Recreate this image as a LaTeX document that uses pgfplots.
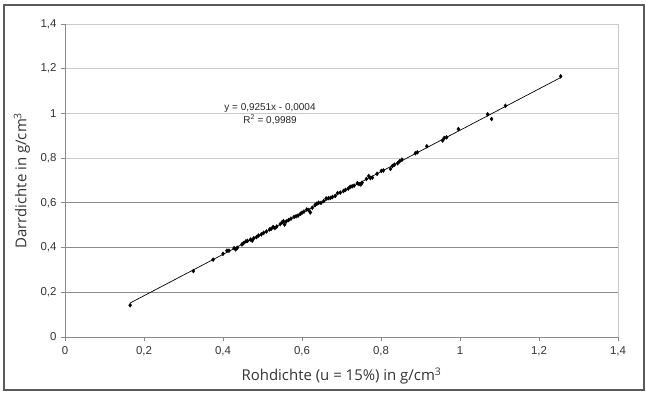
\documentclass[border=0pt]{standalone}
\usepackage{fontspec}
\setmainfont{Liberation Sans}
\newfontfamily\labelfont{Open Sans}
\usepackage{pgfplots}
\pgfplotsset{compat=1.18}

\definecolor{framegray}{HTML}{5A5A5A}
\definecolor{axisgray}{HTML}{8A8A8A}
\definecolor{darkgrid}{HTML}{8C8C8C}
\definecolor{lightgrid}{HTML}{CACACA}

\begin{document}
\begin{tikzpicture}
\useasboundingbox (0,0) rectangle (646bp,394bp);
\draw[framegray, line width=1.4bp] (4bp,4bp) rectangle (644bp,389bp);
\begin{axis}[
  at={(65bp,57bp)}, anchor=south west,
  scale only axis, width=553bp, height=313bp,
  xmin=0, xmax=1.4, ymin=0, ymax=1.4,
  xtick={0,0.2,...,1.4}, ytick={0,0.8,1,1.2,1.4},
  extra y ticks={0.2,0.4,0.6},
  extra y tick style={grid=major, major grid style={darkgrid, line width=0.9bp}},
  axis lines*=left, axis line style={-, axisgray, line width=0.9bp},
  ymajorgrids, major grid style={lightgrid, line width=0.9bp},
  extra x ticks={1.4}, extra x tick labels={},
  extra x tick style={grid=major, major grid style={lightgrid, line width=0.9bp}, major tick length=0pt},
  tick align=outside, major tick length=4bp,
  tick style={axisgray, line width=0.8bp},
  /pgf/number format/assume math mode=true,
  /pgf/number format/use comma,
  ticklabel style={font=\fontsize{11.5}{13}\selectfont, text=black!80},
  xticklabel style={yshift=-2bp},
  yticklabel style={xshift=-1bp},
  xlabel={Rohdichte (u = 15\%) in g/cm\textsuperscript{3}},
  ylabel={Darrdichte in g/cm\textsuperscript{3}},
  label style={font=\labelfont\fontsize{15}{17}\selectfont, text=black!80},
  x label style={at={(axis description cs:0.5,0)}, anchor=center, yshift=-39bp},
  y label style={at={(axis description cs:-0.078,0.5)}, anchor=center},
  clip=false,
]
% measured samples
\addplot[only marks, mark=diamond*, mark size=2bp, black] coordinates {
(0.165,0.142) (0.325,0.295) (0.375,0.346) (0.400,0.372) (0.410,0.386)
(0.415,0.386) (0.428,0.397) (0.432,0.392) (0.436,0.399) (0.448,0.414)
(0.452,0.420) (0.458,0.428) (0.462,0.430) (0.470,0.436) (0.474,0.431)
(0.478,0.442) (0.485,0.447) (0.490,0.454) (0.497,0.459) (0.503,0.466)
(0.510,0.472) (0.518,0.481) (0.522,0.484) (0.527,0.492) (0.531,0.487)
(0.536,0.494) (0.545,0.505) (0.550,0.514) (0.553,0.518) (0.556,0.503)
(0.560,0.517) (0.566,0.523) (0.572,0.529) (0.580,0.537) (0.585,0.540)
(0.590,0.543) (0.596,0.551) (0.600,0.556) (0.605,0.561) (0.612,0.570)
(0.617,0.568) (0.621,0.557) (0.626,0.578) (0.633,0.590) (0.637,0.596)
(0.642,0.601) (0.648,0.600) (0.655,0.608) (0.661,0.620) (0.667,0.621)
(0.672,0.622) (0.677,0.626) (0.684,0.631) (0.690,0.644) (0.697,0.646)
(0.705,0.653) (0.710,0.658) (0.717,0.664) (0.722,0.672) (0.727,0.674)
(0.732,0.677) (0.740,0.688) (0.744,0.684) (0.749,0.682) (0.752,0.690)
(0.763,0.707) (0.769,0.720) (0.773,0.711) (0.778,0.713) (0.790,0.730)
(0.801,0.743) (0.806,0.745) (0.824,0.752) (0.829,0.765) (0.834,0.771)
(0.842,0.777) (0.847,0.786) (0.853,0.793) (0.887,0.822) (0.892,0.826)
(0.916,0.853) (0.956,0.879) (0.960,0.890) (0.966,0.893) (0.996,0.930)
(1.070,0.996) (1.080,0.975) (1.115,1.034) (1.255,1.166)
};
% linear trend line y = 0.9251x - 0.0004 over the sampled range
\addplot[black, line width=0.7bp] coordinates {(0.165,0.1522) (1.255,1.1606)};
\node[font=\fontsize{10}{12}\selectfont, text=black!85, align=center]
  at (axis cs:0.519,0.998) {y = 0,9251x - 0,0004\\[1bp]R\textsuperscript{2} = 0,9989};
\end{axis}
\end{tikzpicture}
\end{document}
